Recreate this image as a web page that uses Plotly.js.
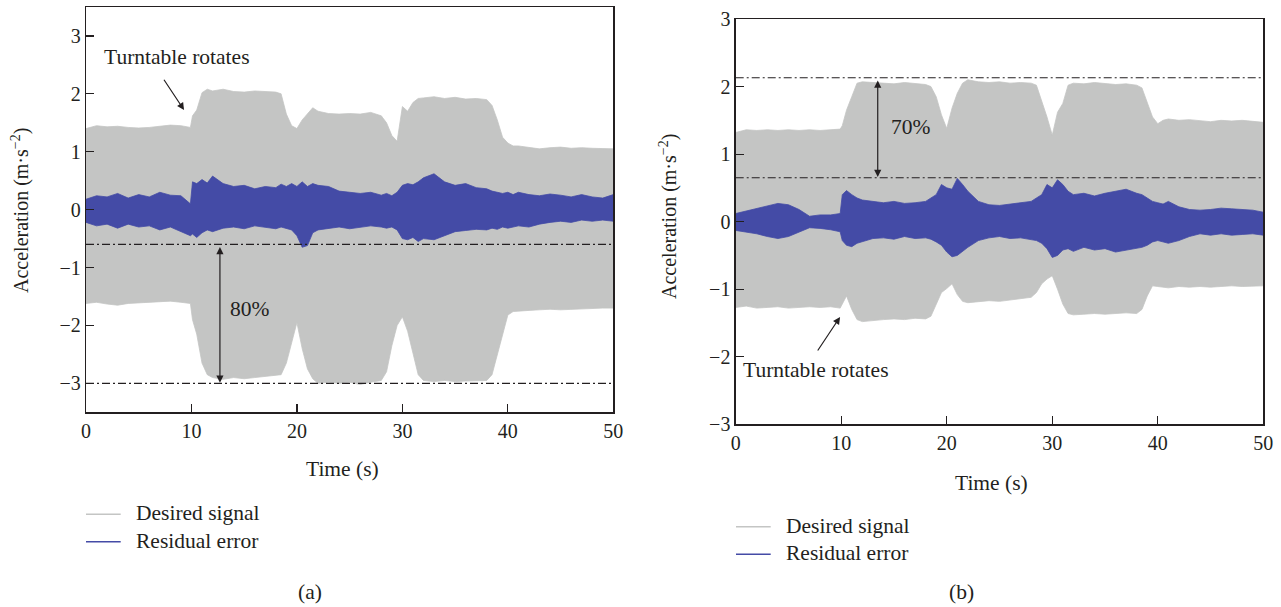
<!DOCTYPE html>
<html><head><meta charset="utf-8">
<script src="https://cdn.plot.ly/plotly-3.0.1.min.js"></script>
<style>html,body{margin:0;padding:0;background:#fff}#chart{width:1281px;height:607px}</style>
</head><body><div id="chart"></div>
<script>
// ---- data (envelopes of the oscillating signals) ----
const time = [0,1,2,3,4,5,6,7,8,9,
  9.9,10.1,10.5,11,11.5,
  12,13,14,15,16,17,18,
  18.5,19,19.5,20,20.5,21,21.5,
  22,23,24,25,26,27,28,
  28.5,29,29.5,30,30.5,31,31.5,
  32,33,34,35,36,37,38,
  38.5,39,39.5,40,40.5,
  41,42,43,44,45,46,47,48,49,50];

// panel (a)
const desiredUpperA = [1.40,1.45,1.43,1.44,1.42,1.41,1.42,1.44,1.46,1.45,
  1.42,1.62,1.72,2.02,2.08,
  2.05,2.08,2.04,2.03,2.05,2.04,2.03,
  2.00,1.65,1.45,1.40,1.55,1.65,1.76,
  1.70,1.66,1.65,1.66,1.65,1.68,1.62,
  1.50,1.28,1.18,1.78,1.70,1.85,1.92,
  1.93,1.95,1.92,1.94,1.91,1.92,1.90,
  1.80,1.55,1.25,1.15,1.10,
  1.10,1.07,1.05,1.07,1.08,1.06,1.07,1.06,1.05,1.05];
const desiredLowerA = [-1.62,-1.60,-1.63,-1.65,-1.62,-1.61,-1.60,-1.60,-1.58,-1.60,
  -1.62,-1.90,-2.15,-2.65,-2.85,
  -2.90,-2.93,-2.90,-2.92,-2.90,-2.88,-2.86,
  -2.85,-2.65,-2.30,-1.95,-2.40,-2.75,-2.92,
  -3.00,-2.98,-3.00,-2.98,-3.02,-2.98,-2.95,
  -2.80,-2.35,-2.00,-1.85,-2.10,-2.50,-2.85,
  -2.95,-2.97,-2.95,-2.97,-2.96,-2.95,-2.95,
  -2.85,-2.50,-2.15,-1.82,-1.76,
  -1.75,-1.74,-1.73,-1.72,-1.73,-1.72,-1.72,-1.71,-1.70,-1.70];
const errorUpperA = [0.18,0.24,0.22,0.28,0.20,0.26,0.22,0.30,0.25,0.24,
  0.10,0.48,0.45,0.52,0.46,
  0.58,0.45,0.40,0.42,0.36,0.40,0.38,
  0.44,0.40,0.45,0.40,0.48,0.40,0.45,
  0.42,0.40,0.32,0.30,0.28,0.30,0.25,
  0.28,0.24,0.30,0.42,0.45,0.43,0.48,
  0.55,0.62,0.48,0.42,0.45,0.38,0.36,
  0.32,0.30,0.28,0.30,0.26,
  0.30,0.26,0.24,0.27,0.25,0.22,0.26,0.22,0.20,0.26];
const errorLowerA = [-0.22,-0.28,-0.25,-0.32,-0.25,-0.30,-0.28,-0.35,-0.30,-0.38,
  -0.45,-0.42,-0.48,-0.40,-0.35,
  -0.38,-0.32,-0.30,-0.33,-0.28,-0.30,-0.33,
  -0.30,-0.32,-0.35,-0.45,-0.65,-0.62,-0.40,
  -0.35,-0.32,-0.30,-0.33,-0.30,-0.28,-0.30,
  -0.32,-0.30,-0.35,-0.50,-0.52,-0.48,-0.55,
  -0.50,-0.52,-0.45,-0.38,-0.36,-0.34,-0.35,
  -0.32,-0.34,-0.30,-0.32,-0.30,
  -0.28,-0.30,-0.25,-0.22,-0.20,-0.22,-0.18,-0.20,-0.18,-0.20];

// panel (b)
const desiredUpperB = [1.32,1.36,1.35,1.36,1.35,1.36,1.35,1.36,1.35,1.36,
  1.37,1.42,1.65,1.85,2.05,
  2.07,2.06,2.05,2.04,2.06,2.04,2.03,
  2.00,1.85,1.58,1.38,1.68,1.90,2.05,
  2.10,2.07,2.06,2.07,2.05,2.06,2.05,
  2.02,1.80,1.55,1.28,1.62,1.75,2.02,
  2.05,2.04,2.06,2.04,2.03,2.04,2.02,
  1.98,1.75,1.55,1.45,1.50,
  1.52,1.50,1.51,1.49,1.48,1.50,1.49,1.50,1.48,1.47];
const desiredLowerB = [-1.27,-1.25,-1.28,-1.27,-1.26,-1.28,-1.27,-1.26,-1.27,-1.26,
  -1.28,-1.22,-1.10,-1.30,-1.45,
  -1.48,-1.46,-1.45,-1.44,-1.45,-1.43,-1.44,
  -1.40,-1.22,-1.05,-0.99,-0.92,-1.08,-1.18,
  -1.20,-1.18,-1.17,-1.18,-1.16,-1.15,-1.12,
  -1.05,-0.92,-0.85,-0.80,-1.00,-1.22,-1.36,
  -1.38,-1.37,-1.36,-1.37,-1.36,-1.35,-1.36,
  -1.30,-1.10,-0.95,-0.96,-0.97,
  -0.98,-0.96,-0.97,-0.96,-0.97,-0.96,-0.95,-0.96,-0.95,-0.95];
const errorUpperB = [0.12,0.16,0.20,0.24,0.27,0.25,0.18,0.08,0.10,0.10,
  0.12,0.40,0.46,0.40,0.35,
  0.32,0.30,0.28,0.30,0.27,0.28,0.30,
  0.35,0.40,0.55,0.50,0.48,0.64,0.55,
  0.45,0.30,0.25,0.24,0.26,0.28,0.30,
  0.35,0.40,0.55,0.50,0.62,0.55,0.45,
  0.40,0.42,0.38,0.42,0.45,0.48,0.42,
  0.40,0.35,0.30,0.28,0.26,
  0.30,0.22,0.18,0.17,0.18,0.20,0.19,0.18,0.17,0.14];
const errorLowerB = [-0.13,-0.15,-0.18,-0.22,-0.25,-0.22,-0.16,-0.09,-0.10,-0.12,
  -0.15,-0.28,-0.35,-0.37,-0.32,
  -0.30,-0.25,-0.24,-0.26,-0.22,-0.25,-0.24,
  -0.26,-0.30,-0.35,-0.45,-0.52,-0.50,-0.44,
  -0.38,-0.28,-0.24,-0.22,-0.25,-0.24,-0.26,
  -0.28,-0.32,-0.40,-0.53,-0.50,-0.42,-0.40,
  -0.44,-0.38,-0.42,-0.40,-0.45,-0.42,-0.40,
  -0.38,-0.35,-0.30,-0.28,-0.30,
  -0.32,-0.28,-0.22,-0.18,-0.20,-0.18,-0.20,-0.19,-0.18,-0.20];

const levelsA = [-0.6, -3.0];     // dash-dot reference lines (a)
const levelsB = [2.13, 0.65];     // dash-dot reference lines (b)
const xTicks = [0,10,20,30,40,50];
const yTicksA = [-3,-2,-1,0,1,2,3];
const yTicksB = [-3,-2,-1,0,1,2,3];
const seriesNames = ['Desired signal','Residual error'];
const panelLabels = ['(a)','(b)'];

// ---- styling ----
const W = 1281, H = 607;
const GRAY = '#c4c5c4', BLUE = '#444ba6', INK = '#231f20';
const FONT = 'Liberation Serif, Times New Roman, serif';
const px = v => v / W, py = v => 1 - v / H;

function band(lo, hi, color, xa, ya, name) {
  return [
    {x: time, y: lo, xaxis: xa, yaxis: ya, mode: 'lines', line: {color: color, width: 0.8},
     showlegend: false, hoverinfo: 'skip', name: name},
    {x: time, y: hi, xaxis: xa, yaxis: ya, mode: 'lines', line: {color: color, width: 0.8},
     fill: 'tonexty', fillcolor: color, showlegend: false, name: name}
  ];
}

const data = [].concat(
  band(desiredLowerA, desiredUpperA, GRAY, 'x', 'y', seriesNames[0]),
  band(errorLowerA, errorUpperA, BLUE, 'x', 'y', seriesNames[1]),
  band(desiredLowerB, desiredUpperB, GRAY, 'x2', 'y2', seriesNames[0]),
  band(errorLowerB, errorUpperB, BLUE, 'x2', 'y2', seriesNames[1])
);

function axisBase(extra) {
  return Object.assign({
    showline: true, mirror: true, linecolor: INK, linewidth: 1.3,
    ticks: 'inside', ticklen: 8, tickwidth: 1.2, tickcolor: INK,
    showgrid: false, zeroline: false,
    tickfont: {family: FONT, size: 20, color: INK}
  }, extra);
}

const dashPattern = '8px,3px,2px,3px';
const shapes = [];
levelsA.forEach(v => shapes.push({type: 'line', xref: 'x', yref: 'y', x0: 0, x1: 50, y0: v, y1: v,
  line: {color: INK, width: 1.1, dash: dashPattern}}));
levelsB.forEach(v => shapes.push({type: 'line', xref: 'x2', yref: 'y2', x0: 0, x1: 50, y0: v, y1: v,
  line: {color: INK, width: 1.1, dash: dashPattern}}));

// legend samples (drawn in paper space)
const legendPos = [
  {x0: 86, x1: 120.7, tx: 134.3, y1: 514.3, y2: 541.7},
  {x0: 736, x1: 770.7, tx: 784, y1: 526.7, y2: 554.3}
];
const annotations = [];
const txt = (size) => ({family: FONT, size: size, color: INK});
const TS = 21.5;
legendPos.forEach(p => {
  shapes.push({type: 'line', xref: 'paper', yref: 'paper', x0: px(p.x0), x1: px(p.x1), y0: py(p.y1), y1: py(p.y1), line: {color: GRAY, width: 1.5}});
  shapes.push({type: 'line', xref: 'paper', yref: 'paper', x0: px(p.x0), x1: px(p.x1), y0: py(p.y2), y1: py(p.y2), line: {color: BLUE, width: 1.5}});
  annotations.push({xref: 'paper', yref: 'paper', x: px(p.tx), y: py(p.y1 - 1), xanchor: 'left', yanchor: 'middle', showarrow: false, text: seriesNames[0], font: txt(TS)});
  annotations.push({xref: 'paper', yref: 'paper', x: px(p.tx), y: py(p.y2 - 1), xanchor: 'left', yanchor: 'middle', showarrow: false, text: seriesNames[1], font: txt(TS)});
});

function label(xref, yref, x, y, text, size, extra) {
  return Object.assign({xref: xref, yref: yref, x: x, y: y, xanchor: 'center', yanchor: 'middle',
    showarrow: false, text: text, font: txt(size)}, extra || {});
}

// panel labels and axis titles
annotations.push(label('paper', 'paper', px(310), py(591.7), panelLabels[0], TS));
annotations.push(label('paper', 'paper', px(961.7), py(591.7), panelLabels[1], TS));
annotations.push(label('paper', 'paper', px(342), py(468.5), 'Time (s)', TS));
annotations.push(label('paper', 'paper', px(991), py(483), 'Time (s)', TS));
annotations.push(label('paper', 'paper', px(20), py(211), 'Acceleration (m·s<sup>−2</sup>)', 20, {textangle: -90}));
annotations.push(label('paper', 'paper', px(668), py(217), 'Acceleration (m·s<sup>−2</sup>)', 20, {textangle: -90}));

// in-plot annotations (a)
annotations.push(label('x', 'y', 8.6, 2.63, 'Turntable rotates', TS));
annotations.push({xref: 'x', yref: 'y', x: 9.3, y: 1.72, axref: 'x', ayref: 'y', ax: 7.3, ay: 2.27, text: '', showarrow: true,
  arrowhead: 2, arrowsize: 1.2, arrowwidth: 1.2, arrowcolor: INK, standoff: 0});
annotations.push({xref: 'x', yref: 'y', x: 12.7, y: -2.99, axref: 'x', ayref: 'y', ax: 12.7, ay: -0.62, text: '', showarrow: true,
  arrowhead: 2, startarrowhead: 2, arrowside: 'end+start', arrowsize: 1.2, startarrowsize: 1.2, arrowwidth: 1.2, arrowcolor: INK, standoff: 0, startstandoff: 0});
annotations.push(label('x', 'y', 15.56, -1.72, '80%', TS));

// in-plot annotations (b)
annotations.push(label('x2', 'y2', 7.6, -2.19, 'Turntable rotates', TS));
annotations.push({xref: 'x2', yref: 'y2', x: 9.89, y: -1.41, axref: 'x2', ayref: 'y2', ax: 7.68, ay: -1.93, text: '', showarrow: true,
  arrowhead: 2, arrowsize: 1.2, arrowwidth: 1.2, arrowcolor: INK, standoff: 0});
annotations.push({xref: 'x2', yref: 'y2', x: 13.46, y: 0.66, axref: 'x2', ayref: 'y2', ax: 13.46, ay: 2.11, text: '', showarrow: true,
  arrowhead: 2, startarrowhead: 2, arrowside: 'end+start', arrowsize: 1.2, startarrowsize: 1.2, arrowwidth: 1.2, arrowcolor: INK, standoff: 0, startstandoff: 0});
annotations.push(label('x2', 'y2', 16.62, 1.405, '70%', TS));

const layout = {
  width: W, height: H,
  margin: {l: 0, r: 0, t: 0, b: 0},
  paper_bgcolor: '#fff', plot_bgcolor: '#fff',
  showlegend: false,
  font: {family: FONT, color: INK},
  xaxis: axisBase({domain: [px(86), px(613.3)], range: [0, 50], tickvals: xTicks, anchor: 'y'}),
  yaxis: axisBase({domain: [py(412.3), py(7)], range: [-3.5, 3.5], tickvals: yTicksA, anchor: 'x'}),
  xaxis2: axisBase({domain: [px(735.7), px(1263.3)], range: [0, 50], tickvals: xTicks, anchor: 'y2'}),
  yaxis2: axisBase({domain: [py(424.3), py(19)], range: [-3, 3], tickvals: yTicksB, anchor: 'x2'}),
  shapes: shapes,
  annotations: annotations
};

Plotly.newPlot('chart', data, layout, {staticPlot: true, displayModeBar: false});
</script>
</body></html>
